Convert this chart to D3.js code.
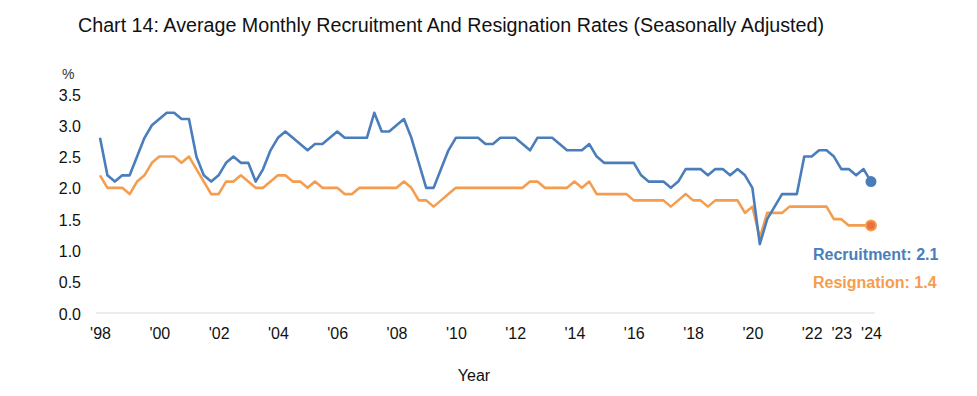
<!DOCTYPE html>
<html>
<head>
<meta charset="utf-8">
<script src="https://cdn.jsdelivr.net/npm/d3@7"></script>
<style>
  body { margin: 0; background: #fff; }
  svg { font-family: "Liberation Sans", Arial, sans-serif; }
  .chart-title { font-family: "Liberation Sans Narrow", "Arial Narrow", "Liberation Sans", sans-serif; font-size: 20px; fill: #111; }
  .axis text { font-size: 16px; fill: #111; }
  .line { fill: none; stroke-width: 2.6; stroke-linejoin: round; }
</style>
</head>
<body>
<div id="container1"></div>
<script>
// Quarterly data, 1998Q1 to 2024Q1
const startYear = 1998;
const quarters = [];
for (let y = startYear; y <= 2024; y++) {
  for (let q = 1; q <= 4; q++) {
    if (y === 2024 && q > 1) break;
    quarters.push(y + "Q" + q);
  }
}

const recruitment = [
  2.8, 2.2, 2.1, 2.2, 2.2, 2.5, 2.8, 3.0,
  3.1, 3.2, 3.2, 3.1, 3.1, 2.5, 2.2, 2.1,
  2.2, 2.4, 2.5, 2.4, 2.4, 2.1, 2.3, 2.6,
  2.8, 2.9, 2.8, 2.7, 2.6, 2.7, 2.7, 2.8,
  2.9, 2.8, 2.8, 2.8, 2.8, 3.2, 2.9, 2.9,
  3.0, 3.1, 2.8, 2.4, 2.0, 2.0, 2.3, 2.6,
  2.8, 2.8, 2.8, 2.8, 2.7, 2.7, 2.8, 2.8,
  2.8, 2.7, 2.6, 2.8, 2.8, 2.8, 2.7, 2.6,
  2.6, 2.6, 2.7, 2.5, 2.4, 2.4, 2.4, 2.4,
  2.4, 2.2, 2.1, 2.1, 2.1, 2.0, 2.1, 2.3,
  2.3, 2.3, 2.2, 2.3, 2.3, 2.2, 2.3, 2.2,
  2.0, 1.1, 1.5, 1.7, 1.9, 1.9, 1.9, 2.5,
  2.5, 2.6, 2.6, 2.5, 2.3, 2.3, 2.2, 2.3,
  2.1
];

const resignation = [
  2.2, 2.0, 2.0, 2.0, 1.9, 2.1, 2.2, 2.4,
  2.5, 2.5, 2.5, 2.4, 2.5, 2.3, 2.1, 1.9,
  1.9, 2.1, 2.1, 2.2, 2.1, 2.0, 2.0, 2.1,
  2.2, 2.2, 2.1, 2.1, 2.0, 2.1, 2.0, 2.0,
  2.0, 1.9, 1.9, 2.0, 2.0, 2.0, 2.0, 2.0,
  2.0, 2.1, 2.0, 1.8, 1.8, 1.7, 1.8, 1.9,
  2.0, 2.0, 2.0, 2.0, 2.0, 2.0, 2.0, 2.0,
  2.0, 2.0, 2.1, 2.1, 2.0, 2.0, 2.0, 2.0,
  2.1, 2.0, 2.1, 1.9, 1.9, 1.9, 1.9, 1.9,
  1.8, 1.8, 1.8, 1.8, 1.8, 1.7, 1.8, 1.9,
  1.8, 1.8, 1.7, 1.8, 1.8, 1.8, 1.8, 1.6,
  1.7, 1.2, 1.6, 1.6, 1.6, 1.7, 1.7, 1.7,
  1.7, 1.7, 1.7, 1.5, 1.5, 1.4, 1.4, 1.4,
  1.4
];

// x tick labels sit on Q1 of these years
const tickYears = [1998, 2000, 2002, 2004, 2006, 2008, 2010, 2012, 2014, 2016, 2018, 2020, 2022, 2023, 2024];
const tickLabels = ["'98", "'00", "'02", "'04", "'06", "'08", "'10", "'12", "'14", "'16", "'18", "'20", "'22", "'23", "'24"];
const yTicks = [0, 0.5, 1.0, 1.5, 2.0, 2.5, 3.0, 3.5];

const blue = "#4a7ebb";
const orange = "#f59d4f";

const svg = d3.select("#container1")
              .append("svg")
              .attr("width", 977)
              .attr("height", 396);

// Title (squeezed to the narrow look of the original)
svg.append("text")
   .attr("class", "chart-title")
   .attr("x", 78)
   .attr("y", 32)
   .attr("textLength", 746)
   .attr("lengthAdjust", "spacingAndGlyphs")
   .text("Chart 14: Average Monthly Recruitment And Resignation Rates (Seasonally Adjusted)");

// Scales
const x = d3.scalePoint()
            .domain(quarters)
            .range([96.3, 874.7])
            .padding(0.5);

const y = d3.scaleLinear()
            .domain([0, 3.5])
            .range([313, 94]);

// Y axis
const yAxis = svg.append("g")
   .attr("class", "axis y-axis")
   .attr("transform", "translate(81,1)")
   .call(d3.axisLeft(y).tickValues(yTicks).tickFormat(d3.format(".1f")).tickSize(0).tickPadding(0));
yAxis.select(".domain").remove();
yAxis.selectAll("text").attr("font-family", null);

svg.append("text")
   .attr("x", 62)
   .attr("y", 79)
   .attr("font-size", 14)
   .attr("fill", "#333")
   .text("%");

// Baseline
svg.append("line")
   .attr("x1", x.range()[0])
   .attr("x2", x.range()[1])
   .attr("y1", y(0))
   .attr("y2", y(0))
   .attr("stroke", "#d9d9d9")
   .attr("stroke-width", 1.2);

// X axis
const xAxis = svg.append("g")
   .attr("class", "axis x-axis")
   .attr("transform", `translate(0,${y(0)})`)
   .call(d3.axisBottom(x)
           .tickValues(tickYears.map(yr => yr + "Q1"))
           .tickFormat((d, i) => tickLabels[i])
           .tickSize(0)
           .tickPadding(15));
xAxis.select(".domain").remove();
xAxis.selectAll("text").attr("font-family", null);

svg.append("text")
   .attr("x", 474)
   .attr("y", 381)
   .attr("text-anchor", "middle")
   .attr("font-size", 16)
   .attr("fill", "#111")
   .text("Year");

// Lines
const line = d3.line()
               .x((d, i) => x(quarters[i]))
               .y(d => y(d));

svg.append("path")
   .datum(resignation)
   .attr("class", "line")
   .attr("d", line)
   .style("stroke", orange);

svg.append("path")
   .datum(recruitment)
   .attr("class", "line")
   .attr("d", line)
   .style("stroke", blue);

// End markers
const last = quarters.length - 1;
svg.append("circle")
   .attr("cx", x(quarters[last]))
   .attr("cy", y(recruitment[last]))
   .attr("r", 5.5)
   .attr("fill", blue);

svg.append("circle")
   .attr("cx", x(quarters[last]))
   .attr("cy", y(resignation[last]))
   .attr("r", 5)
   .attr("fill", "#e8743b")
   .attr("stroke", orange)
   .attr("stroke-width", 2);

// End labels
svg.append("text")
   .attr("x", 813)
   .attr("y", 260)
   .attr("font-size", 16)
   .attr("font-weight", "bold")
   .attr("fill", blue)
   .text("Recruitment: " + recruitment[last]);

svg.append("text")
   .attr("x", 813)
   .attr("y", 288)
   .attr("font-size", 16)
   .attr("font-weight", "bold")
   .attr("fill", orange)
   .text("Resignation: " + resignation[last]);
</script>
</body>
</html>
